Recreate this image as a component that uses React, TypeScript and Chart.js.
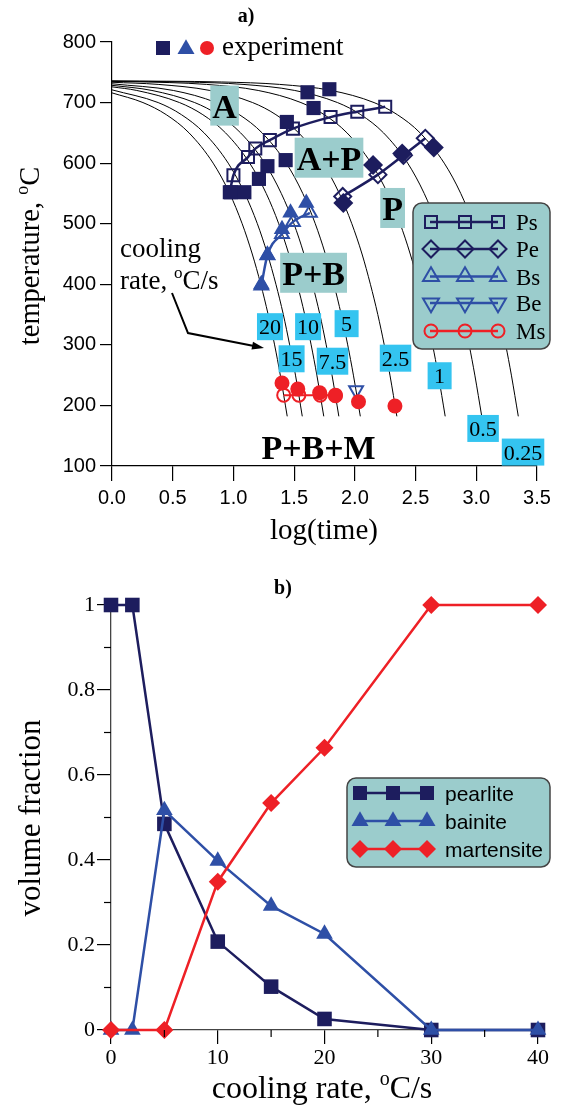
import React, { useEffect, useRef } from 'react';
import { Chart, registerables } from 'chart.js';
Chart.register(...registerables);

// ---------------- Panel a) data : [log(time), temperature] ----------------
const rateLabels = ['20', '15', '10', '7.5', '5', '2.5', '1', '0.5', '0.25'];
const curve20 = [[0, 716], [0.255, 700], [0.447, 680], [0.634, 650], [0.833, 600], [0.969, 550], [1.072, 500], [1.155, 450], [1.225, 400], [1.286, 350], [1.339, 300], [1.386, 250], [1.443, 182]];
const curve15 = [[0, 721], [0.38, 700], [0.572, 680], [0.758, 650], [0.957, 600], [1.093, 550], [1.197, 500], [1.28, 450], [1.35, 400], [1.411, 350], [1.463, 300], [1.511, 250], [1.567, 182]];
const curve10 = [[0, 726], [0.204, 720], [0.556, 700], [0.748, 680], [0.935, 650], [1.134, 600], [1.27, 550], [1.373, 500], [1.456, 450], [1.526, 400], [1.587, 350], [1.64, 300], [1.687, 250], [1.744, 182]];
const curve7p5 = [[0, 728.5], [0.329, 720], [0.681, 700], [0.873, 680], [1.059, 650], [1.258, 600], [1.394, 550], [1.498, 500], [1.581, 450], [1.651, 400], [1.712, 350], [1.764, 300], [1.812, 250], [1.868, 182]];
const curve5 = [[0, 731], [0.505, 720], [0.857, 700], [1.049, 680], [1.236, 650], [1.435, 600], [1.571, 550], [1.674, 500], [1.757, 450], [1.827, 400], [1.888, 350], [1.941, 300], [1.988, 250], [2.045, 182]];
const curve2p5 = [[0, 733.5], [0.38, 730], [0.806, 720], [1.158, 700], [1.35, 680], [1.537, 650], [1.736, 600], [1.872, 550], [1.975, 500], [2.059, 450], [2.128, 400], [2.189, 350], [2.242, 300], [2.289, 250], [2.346, 182]];
const curve1 = [[0, 735], [0.477, 733], [0.778, 730], [1.204, 720], [1.556, 700], [1.748, 680], [1.935, 650], [2.134, 600], [2.27, 550], [2.373, 500], [2.456, 450], [2.526, 400], [2.587, 350], [2.64, 300], [2.687, 250], [2.744, 182]];
const curve0p5 = [[0, 735.5], [0.602, 734], [1.079, 730], [1.505, 720], [1.857, 700], [2.049, 680], [2.236, 650], [2.435, 600], [2.571, 550], [2.674, 500], [2.757, 450], [2.827, 400], [2.888, 350], [2.941, 300], [2.988, 250], [3.045, 182]];
const curve0p25 = [[0, 735.75], [0.903, 734], [1.38, 730], [1.806, 720], [2.158, 700], [2.35, 680], [2.537, 650], [2.736, 600], [2.872, 550], [2.975, 500], [3.059, 450], [3.128, 400], [3.189, 350], [3.242, 300], [3.289, 250], [3.346, 182]];
const coolingCurves = [curve20, curve15, curve10, curve7p5, curve5, curve2p5, curve1, curve0p5, curve0p25];

const psModel = [[0.97, 552], [1.0, 580], [1.12, 610], [1.18, 624], [1.3, 638], [1.49, 657], [1.8, 676], [2.02, 685], [2.25, 693]];
const peModel = [[1.9, 545], [2.19, 581], [2.4, 613], [2.58, 641]];
const bsModel = [[1.23, 398], [1.28, 448], [1.4, 483], [1.49, 503], [1.63, 518]];
const beModel = [[2.01, 225]];
const msModel = [[1.414, 217], [1.539, 217], [1.715, 217], [1.84, 217]];

const expPearlite = [[0.98, 552], [1.09, 552], [1.21, 574], [1.28, 595], [1.43, 605], [1.44, 668], [1.66, 691], [1.61, 717], [1.79, 722]];
const expPearliteEnd = [[1.905, 534], [2.15, 597], [2.39, 616], [2.65, 626]];
const expBainite = [[1.23, 400], [1.28, 448], [1.4, 491], [1.47, 518], [1.6, 534]];
const expMartensite = [[1.4, 237], [1.53, 227], [1.71, 221], [1.84, 216], [2.03, 206], [2.33, 199]];

const rateLabelAnchors = [[1.301, 330], [1.479, 277], [1.615, 330], [1.816, 273], [1.932, 335], [2.335, 278], [2.698, 249], [3.056, 162], [3.385, 123]];
const regionLabels = ['A', 'A+P', 'P', 'P+B'];
const regionAnchors = [[0.927, 695], [1.787, 609], [2.311, 526], [1.66, 419]];
const mixLabel = 'P+B+M';
const mixAnchor = [1.701, 132];
const legendA = ['Ps', 'Pe', 'Bs', 'Be', 'Ms'];
const xTicksA = [0, 0.5, 1, 1.5, 2, 2.5, 3, 3.5];

// ---------------- Panel b) data ----------------
const coolingRate = [0, 2, 5, 10, 15, 20, 30, 40];
const pearlite = [1, 1, 0.485, 0.208, 0.102, 0.026, 0, 0];
const bainite = [0, 0, 0.517, 0.398, 0.292, 0.226, 0, 0];
const martensite = [0, null, 0, 0.349, 0.534, 0.664, 1, 1];
const legendB = ['pearlite', 'bainite', 'martensite'];

// ---------------- styles ----------------
const NAVY = '#1d1d5e';
const BLUE = '#2e4fa6';
const RED = '#ee2026';
const TEAL = '#9bcccc';
const CYAN = '#34c4f0';
const SERIF = '"Liberation Serif", "Times New Roman", serif';
const SANS = '"Liberation Sans", Arial, sans-serif';

const pts = (a: number[][]) => a.map(([x, y]) => ({ x, y }));

function marker(ctx: any, shape: string, x: number, y: number, size: number, fill: string | null, stroke: string | null, lw = 2) {
  ctx.save();
  ctx.beginPath();
  const h = size / 2;
  if (shape === 'square') ctx.rect(x - h, y - h, size, size);
  else if (shape === 'diamond') {
    ctx.moveTo(x, y - h); ctx.lineTo(x + h, y); ctx.lineTo(x, y + h); ctx.lineTo(x - h, y); ctx.closePath();
  } else if (shape === 'tri' || shape === 'triDown') {
    const r = size / Math.sqrt(3);
    const s = shape === 'tri' ? 1 : -1;
    ctx.moveTo(x, y - s * r); ctx.lineTo(x + h, y + s * r / 2); ctx.lineTo(x - h, y + s * r / 2); ctx.closePath();
  } else ctx.arc(x, y, h, 0, Math.PI * 2);
  if (fill) { ctx.fillStyle = fill; ctx.fill(); }
  if (stroke) { ctx.strokeStyle = stroke; ctx.lineWidth = lw; ctx.stroke(); }
  ctx.restore();
}

function rich(ctx: any, segs: { t: string; sup?: boolean }[], x: number, y: number, size: number, align = 'center', rot = 0, weight = 'normal') {
  ctx.save();
  ctx.translate(x, y);
  ctx.rotate(rot);
  ctx.fillStyle = '#000';
  ctx.textBaseline = 'alphabetic';
  ctx.textAlign = 'left';
  const fN = `${weight} ${size}px ${SERIF}`;
  const fS = `${weight} ${Math.round(size * 0.62)}px ${SERIF}`;
  let total = 0;
  const ws = segs.map((s) => { ctx.font = s.sup ? fS : fN; const w = ctx.measureText(s.t).width; total += w; return w; });
  let cx = align === 'center' ? -total / 2 : 0;
  segs.forEach((s, i) => {
    ctx.font = s.sup ? fS : fN;
    ctx.fillText(s.t, cx, s.sup ? -size * 0.4 : 0);
    cx += ws[i];
  });
  ctx.restore();
}

function roundBox(ctx: any, x: number, y: number, w: number, h: number, r: number, fill: string, stroke: string) {
  ctx.save();
  ctx.beginPath();
  ctx.moveTo(x + r, y);
  ctx.arcTo(x + w, y, x + w, y + h, r);
  ctx.arcTo(x + w, y + h, x, y + h, r);
  ctx.arcTo(x, y + h, x, y, r);
  ctx.arcTo(x, y, x + w, y, r);
  ctx.closePath();
  ctx.fillStyle = fill; ctx.fill();
  ctx.strokeStyle = stroke; ctx.lineWidth = 1.5; ctx.stroke();
  ctx.restore();
}

const topPlugin = {
  id: 'topDecor',
  afterDatasetDraw(chart: any, args: any) {
    if (args.index !== 0) return;
    const ctx = chart.ctx;
    const xs = chart.scales.x, ys = chart.scales.y;
    ctx.save();
    // cooling-rate labels
    ctx.font = `22px ${SERIF}`;
    ctx.textAlign = 'center';
    ctx.textBaseline = 'alphabetic';
    rateLabels.forEach((t, i) => {
      const px = xs.getPixelForValue(rateLabelAnchors[i][0]);
      const py = ys.getPixelForValue(rateLabelAnchors[i][1]);
      const w = Math.max(ctx.measureText(t).width + 4, 24);
      ctx.fillStyle = CYAN;
      ctx.fillRect(px - w / 2, py - 13.5, w, 27);
      ctx.fillStyle = '#000';
      ctx.fillText(t, px, py + 7.5);
    });
    // region labels
    ctx.font = `bold 34px ${SERIF}`;
    regionLabels.forEach((t, i) => {
      const px = xs.getPixelForValue(regionAnchors[i][0]);
      const py = ys.getPixelForValue(regionAnchors[i][1]);
      const w = ctx.measureText(t).width + 4;
      ctx.fillStyle = TEAL;
      ctx.fillRect(px - w / 2, py - 20, w, 40);
      ctx.fillStyle = '#000';
      ctx.fillText(t, px, py + 12);
    });
    ctx.fillText(mixLabel, xs.getPixelForValue(mixAnchor[0]), ys.getPixelForValue(mixAnchor[1]) + 12);
    // legend box
    roundBox(ctx, 413, 203, 137, 146, 9, TEAL, '#444');
    const rows = [222, 249, 276.5, 303, 331];
    const cfg = [
      { c: NAVY, s: 'square', z: 12 },
      { c: NAVY, s: 'diamond', z: 17 },
      { c: BLUE, s: 'tri', z: 16 },
      { c: BLUE, s: 'triDown', z: 16 },
      { c: RED, s: 'circle', z: 13 },
    ];
    legendA.forEach((t, i) => {
      const y = rows[i];
      ctx.beginPath();
      ctx.strokeStyle = cfg[i].c; ctx.lineWidth = 2.5;
      ctx.moveTo(430, y); ctx.lineTo(498, y); ctx.stroke();
      [431, 465, 498].forEach((mx) => marker(ctx, cfg[i].s, mx, y, cfg[i].z, null, cfg[i].c, 2));
      ctx.fillStyle = '#000';
      ctx.font = `23px ${SERIF}`;
      ctx.textAlign = 'left';
      ctx.fillText(t, 516, y + 8);
    });
    ctx.restore();
  },
  afterDraw(chart: any) {
    const ctx = chart.ctx;
    ctx.save();
    rich(ctx, [{ t: 'a)' }], 246, 22, 20, 'center', 0, 'bold');
    rich(ctx, [{ t: 'temperature, ' }, { t: 'o', sup: true }, { t: 'C' }], 39, 256, 28.5, 'center', -Math.PI / 2);
    rich(ctx, [{ t: 'log(time)' }], 324, 539, 29);
    // experiment legend
    marker(ctx, 'square', 163, 48, 14, NAVY, null);
    marker(ctx, 'tri', 186, 49, 17, BLUE, null);
    marker(ctx, 'circle', 207, 48, 14, RED, null);
    rich(ctx, [{ t: 'experiment' }], 222, 55, 27, 'left');
    // cooling rate note + arrow
    rich(ctx, [{ t: 'cooling' }], 120, 257, 27, 'left');
    rich(ctx, [{ t: 'rate, ' }, { t: 'o', sup: true }, { t: 'C/s' }], 120, 289, 27, 'left');
    ctx.beginPath();
    ctx.strokeStyle = '#000'; ctx.lineWidth = 2;
    ctx.moveTo(172, 293); ctx.lineTo(188, 333); ctx.lineTo(254, 346); ctx.stroke();
    const ang = Math.atan2(346 - 333, 254 - 188);
    ctx.beginPath();
    ctx.fillStyle = '#000';
    const tx = 264, ty = 348;
    ctx.moveTo(tx, ty);
    ctx.lineTo(tx - 12 * Math.cos(ang) + 4 * Math.sin(ang), ty - 12 * Math.sin(ang) - 4 * Math.cos(ang));
    ctx.lineTo(tx - 12 * Math.cos(ang) - 4 * Math.sin(ang), ty - 12 * Math.sin(ang) + 4 * Math.cos(ang));
    ctx.closePath(); ctx.fill();
    ctx.restore();
  },
};

const botPlugin = {
  id: 'botDecor',
  afterDraw(chart: any) {
    const ctx = chart.ctx;
    const xs = chart.scales.x, ys = chart.scales.y;
    const { left, bottom } = chart.chartArea;
    ctx.save();
    ctx.strokeStyle = '#000'; ctx.lineWidth = 1.2;
    [0.1, 0.3, 0.5, 0.7, 0.9].forEach((v) => {
      const y = ys.getPixelForValue(v);
      ctx.beginPath(); ctx.moveTo(left - 7, y); ctx.lineTo(left, y); ctx.stroke();
    });
    [5, 15, 25, 35].forEach((v) => {
      const x = xs.getPixelForValue(v);
      ctx.beginPath(); ctx.moveTo(x, bottom); ctx.lineTo(x, bottom + 7); ctx.stroke();
    });
    rich(ctx, [{ t: 'b)' }], 283, 34, 20, 'center', 0, 'bold');
    rich(ctx, [{ t: 'volume fraction' }], 40, 258, 31, 'center', -Math.PI / 2);
    rich(ctx, [{ t: 'cooling rate, ' }, { t: 'o', sup: true }, { t: 'C/s' }], 322, 538, 32);
    // legend
    roundBox(ctx, 347, 218, 203, 89, 9, TEAL, '#444');
    const rows = [233, 261, 289];
    const cfg = [
      { c: NAVY, s: 'square', z: 14 },
      { c: BLUE, s: 'tri', z: 17 },
      { c: RED, s: 'diamond', z: 18 },
    ];
    legendB.forEach((t, i) => {
      const y = rows[i];
      ctx.beginPath();
      ctx.strokeStyle = cfg[i].c; ctx.lineWidth = 2.5;
      ctx.moveTo(360, y); ctx.lineTo(427, y); ctx.stroke();
      [360, 393, 427].forEach((mx) => marker(ctx, cfg[i].s, mx, y, cfg[i].z, cfg[i].c, null));
      ctx.fillStyle = '#000';
      ctx.font = `21px ${SANS}`;
      ctx.textAlign = 'left';
      ctx.textBaseline = 'alphabetic';
      ctx.fillText(t, 445, y + 7.5);
    });
    ctx.restore();
  },
};

function topConfig(): any {
  const curveDs = coolingCurves.map((c) => ({
    data: pts(c), borderColor: '#000', borderWidth: 1, pointRadius: 0,
    cubicInterpolationMode: 'monotone', order: 10, fill: false,
  }));
  const model = (d: number[][], color: string, style: string, r: number, rot = 0) => ({
    data: pts(d), borderColor: color, borderWidth: 2.5, pointStyle: style, pointRadius: r, pointRotation: rot,
    pointBorderColor: color, pointBorderWidth: 2, pointBackgroundColor: 'rgba(0,0,0,0)',
    cubicInterpolationMode: 'monotone', order: 5, clip: false,
  });
  const exp = (d: number[][], color: string, style: string, r: number) => ({
    data: pts(d), showLine: false, pointStyle: style, pointRadius: r, pointBorderWidth: 0,
    pointBackgroundColor: color, pointBorderColor: color, order: 1, clip: false,
  });
  return {
    type: 'line',
    data: {
      datasets: [
        ...curveDs,
        model(psModel, NAVY, 'rect', 8.5),
        model(peModel, NAVY, 'rectRot', 8.5),
        model(bsModel, BLUE, 'triangle', 8),
        model(beModel, BLUE, 'triangle', 8, 180),
        { ...model(msModel, RED, 'circle', 6.5), borderWidth: 2 },
        exp(expPearlite, NAVY, 'rect', 10),
        exp(expPearliteEnd, NAVY, 'rectRot', 10),
        exp(expBainite, BLUE, 'triangle', 9.5),
        exp(expMartensite, RED, 'circle', 7.5),
      ],
    },
    options: {
      animation: false, responsive: false, devicePixelRatio: 1,
      plugins: { legend: { display: false }, tooltip: { enabled: false } },
      layout: { padding: { left: 0, right: 26, top: 42, bottom: 0 } },
      scales: {
        x: {
          type: 'linear', min: 0, max: 3.5,
          afterFit: (s: any) => { s.height = 94; },
          afterBuildTicks: (s: any) => { s.ticks = xTicksA.map((v) => ({ value: v })); },
          ticks: { autoSkip: false, maxRotation: 0, callback: (v: any) => Number(v).toFixed(1), font: { family: SANS, size: 20 }, color: '#000', padding: 5 },
          grid: { drawOnChartArea: false, drawTicks: true, tickLength: 15, color: '#000', lineWidth: 1.2 },
          border: { display: true, color: '#000', width: 1.2 },
        },
        y: {
          type: 'linear', min: 100, max: 800,
          afterFit: (s: any) => { s.width = 112; },
          ticks: { stepSize: 100, font: { family: SANS, size: 20 }, color: '#000', padding: 4 },
          grid: { drawOnChartArea: false, drawTicks: true, tickLength: 12, color: '#000', lineWidth: 1.2 },
          border: { display: true, color: '#000', width: 1.2 },
        },
      },
    },
    plugins: [topPlugin],
  };
}

function botConfig(): any {
  const mk = (vals: (number | null)[]) =>
    coolingRate.map((x, i) => ({ x, y: vals[i] })).filter((p) => p.y !== null);
  const ds = (vals: (number | null)[], color: string, style: string, r: number) => ({
    data: mk(vals), borderColor: color, borderWidth: 2.5, pointStyle: style, pointRadius: r,
    pointBackgroundColor: color, pointBorderColor: color, pointBorderWidth: 0, clip: false, tension: 0,
  });
  return {
    type: 'line',
    data: {
      datasets: [
        ds(martensite, RED, 'rectRot', 9),
        ds(bainite, BLUE, 'triangle', 9.6),
        ds(pearlite, NAVY, 'rect', 10.3),
      ],
    },
    options: {
      animation: false, responsive: false, devicePixelRatio: 1,
      plugins: { legend: { display: false }, tooltip: { enabled: false } },
      layout: { padding: { left: 0, right: 25, top: 45, bottom: 0 } },
      scales: {
        x: {
          type: 'linear', min: 0, max: 40,
          afterFit: (s: any) => { s.height = 83; },
          ticks: { stepSize: 10, autoSkip: false, maxRotation: 0, font: { family: SERIF, size: 22 }, color: '#000', padding: 1 },
          grid: { drawOnChartArea: false, drawTicks: true, tickLength: 14, color: '#000', lineWidth: 1.2 },
          border: { display: true, color: '#444', width: 1.3 },
        },
        y: {
          type: 'linear', min: 0, max: 1,
          afterFit: (s: any) => { s.width = 111; },
          ticks: { stepSize: 0.2, callback: (v: any) => String(Number(Number(v).toFixed(1))), font: { family: SERIF, size: 22 }, color: '#000', padding: 2 },
          grid: { drawOnChartArea: false, drawTicks: true, tickLength: 14, color: '#000', lineWidth: 1.2 },
          border: { display: true, color: '#444', width: 1.3 },
        },
      },
    },
    plugins: [botPlugin],
  };
}

export default function App() {
  const topRef = useRef<HTMLCanvasElement>(null);
  const botRef = useRef<HTMLCanvasElement>(null);
  useEffect(() => {
    const c1 = new Chart(topRef.current as HTMLCanvasElement, topConfig());
    const c2 = new Chart(botRef.current as HTMLCanvasElement, botConfig());
    return () => { c1.destroy(); c2.destroy(); };
  }, []);
  return (
    <div style={{ position: 'absolute', left: 0, top: 0, width: 563, height: 1113, background: '#fff' }}>
      <canvas ref={topRef} width={563} height={560} style={{ position: 'absolute', left: 0, top: 0, width: 563, height: 560 }} />
      <canvas ref={botRef} width={563} height={553} style={{ position: 'absolute', left: 0, top: 560, width: 563, height: 553 }} />
    </div>
  );
}
